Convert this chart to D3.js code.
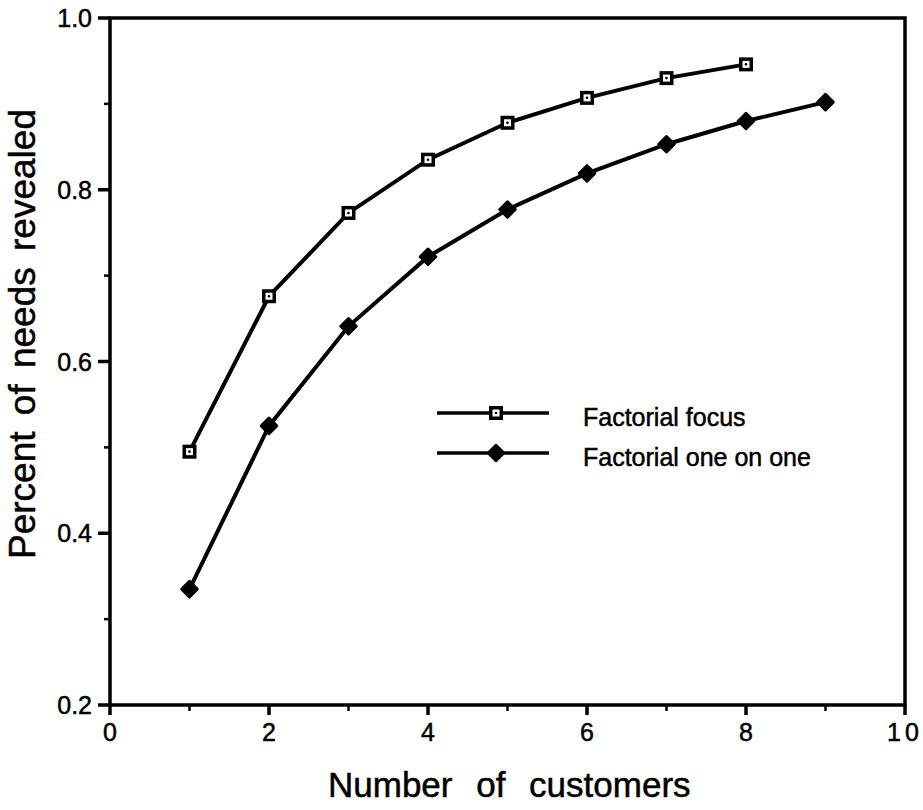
<!DOCTYPE html>
<html>
<head>
<meta charset="utf-8">
<script src="https://cdn.jsdelivr.net/npm/d3@7"></script>
<style>
  html, body { margin: 0; padding: 0; background: #fff; }
  svg { display: block; }
  text { font-family: "Liberation Sans", Arial, Helvetica, sans-serif; fill: #000; stroke: #000; stroke-width: 0.5; }
</style>
</head>
<body>
<svg id="chart" width="923" height="810"></svg>
<script>
// Number of customers interviewed
const customers = [1, 2, 3, 4, 5, 6, 7, 8, 9];
// Share of needs revealed, by interview method
const focusValues = [0.495, 0.676, 0.773, 0.835, 0.878, 0.907, 0.930, 0.946];
const oneOnOneValues = [0.335, 0.525, 0.641, 0.722, 0.777, 0.819, 0.853, 0.880, 0.902];
const seriesNames = ["Factorial focus", "Factorial one on one"];
const xTicks = [0, 2, 4, 6, 8, 10];
const xMinorTicks = [1, 3, 5, 7, 9];
const yTicks = [0.2, 0.4, 0.6, 0.8, 1.0];
const yMinorTicks = [0.3, 0.5, 0.7, 0.9];

const svg = d3.select("#chart");
const plotLeft = 110, plotRight = 905, plotTop = 18, plotBottom = 705;

const x = d3.scaleLinear().domain([0, 10]).range([plotLeft, plotRight]);
const y = d3.scaleLinear().domain([0.2, 1.0]).range([plotBottom, plotTop]);

const ink = "#000";

// Frame
svg.append("rect")
  .attr("x", plotLeft).attr("y", plotTop)
  .attr("width", plotRight - plotLeft).attr("height", plotBottom - plotTop)
  .attr("fill", "none").attr("stroke", ink).attr("stroke-width", 3.5);

// Y axis ticks and labels
const yAxis = svg.append("g");
yAxis.selectAll("line.major").data(yTicks).join("line")
  .attr("class", "major")
  .attr("x1", plotLeft - 12).attr("x2", plotLeft)
  .attr("y1", d => y(d)).attr("y2", d => y(d))
  .attr("stroke", ink).attr("stroke-width", 3.5);
yAxis.selectAll("line.minor").data(yMinorTicks).join("line")
  .attr("class", "minor")
  .attr("x1", plotLeft - 6).attr("x2", plotLeft)
  .attr("y1", d => y(d)).attr("y2", d => y(d))
  .attr("stroke", ink).attr("stroke-width", 2.5);
yAxis.selectAll("text").data(yTicks).join("text")
  .attr("x", plotLeft - 18).attr("y", d => y(d))
  .attr("dy", "0.36em")
  .attr("text-anchor", "end")
  .attr("font-size", 25)
  .text(d => d3.format(".1f")(d));

// X axis ticks and labels
const xAxis = svg.append("g");
xAxis.selectAll("line.major").data(xTicks).join("line")
  .attr("class", "major")
  .attr("x1", d => x(d)).attr("x2", d => x(d))
  .attr("y1", plotBottom).attr("y2", plotBottom + 10)
  .attr("stroke", ink).attr("stroke-width", 3.5);
xAxis.selectAll("line.minor").data(xMinorTicks).join("line")
  .attr("class", "minor")
  .attr("x1", d => x(d)).attr("x2", d => x(d))
  .attr("y1", plotBottom).attr("y2", plotBottom + 6)
  .attr("stroke", ink).attr("stroke-width", 2.5);
xAxis.selectAll("text").data(xTicks).join("text")
  .attr("x", d => x(d)).attr("y", plotBottom + 36)
  .attr("text-anchor", "middle")
  .attr("font-size", 25)
  .attr("letter-spacing", d => d >= 10 ? 4 : 0)
  .text(d => d);

// Axis titles
svg.append("text")
  .attr("x", 328).attr("y", 797)
  .attr("text-anchor", "start")
  .attr("font-size", 35)
  .attr("word-spacing", 14)
  .text("Number of customers");
svg.append("text")
  .attr("transform", "translate(35,334) rotate(-90)")
  .attr("text-anchor", "middle")
  .attr("font-size", 37)
  .attr("word-spacing", 6)
  .text("Percent of needs revealed");

const line = d3.line().x(d => x(d[0])).y(d => y(d[1]));
const focusPts = focusValues.map((v, i) => [customers[i], v]);
const oneOnOnePts = oneOnOneValues.map((v, i) => [customers[i], v]);

function drawSquare(g, cx, cy) {
  g.append("rect")
    .attr("x", cx - 7).attr("y", cy - 7)
    .attr("width", 14).attr("height", 14)
    .attr("fill", ink);
  g.append("rect")
    .attr("x", cx - 3.5).attr("y", cy - 3.5)
    .attr("width", 7).attr("height", 7)
    .attr("fill", "#fff");
  g.append("circle")
    .attr("cx", cx).attr("cy", cy).attr("r", 1.3)
    .attr("fill", ink);
}
function drawDiamond(g, cx, cy) {
  g.append("path")
    .attr("d", d3.symbol().type(d3.symbolSquare).size(120)())
    .attr("transform", `translate(${cx},${cy}) rotate(45)`)
    .attr("fill", ink)
    .attr("stroke", ink).attr("stroke-width", 3).attr("stroke-linejoin", "round");
}

// Series lines
svg.append("path").datum(focusPts)
  .attr("d", line).attr("fill", "none")
  .attr("stroke", ink).attr("stroke-width", 4);
svg.append("path").datum(oneOnOnePts)
  .attr("d", line).attr("fill", "none")
  .attr("stroke", ink).attr("stroke-width", 4);

const markers = svg.append("g");
focusPts.forEach(p => drawSquare(markers, x(p[0]), y(p[1])));
oneOnOnePts.forEach(p => drawDiamond(markers, x(p[0]), y(p[1])));

// Legend
const legend = svg.append("g");
const legendRows = [
  { name: seriesNames[0], yPos: 413, draw: drawSquare },
  { name: seriesNames[1], yPos: 453, draw: drawDiamond }
];
legendRows.forEach(r => {
  legend.append("line")
    .attr("x1", 437).attr("x2", 549)
    .attr("y1", r.yPos).attr("y2", r.yPos)
    .attr("stroke", ink).attr("stroke-width", 3.5);
  r.draw(legend, 496, r.yPos);
  legend.append("text")
    .attr("x", 583).attr("y", r.yPos + 4)
    .attr("dy", "0.36em")
    .attr("font-size", 25)
    .text(r.name);
});
</script>
</body>
</html>
